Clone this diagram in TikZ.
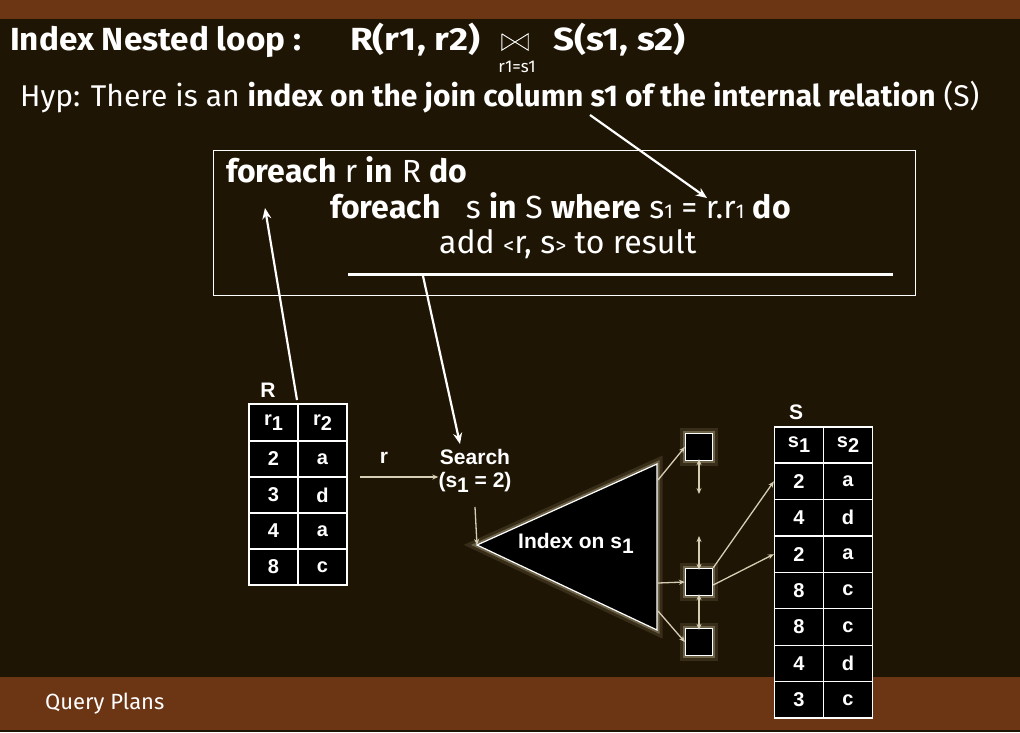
\documentclass[tikz,border=0pt]{standalone}
\usepackage{fontspec}
\setmainfont{Fira Sans}
\newfontfamily\tabfont{Liberation Sans}
\usetikzlibrary{arrows.meta,calc}
\definecolor{slidebg}{HTML}{1F1504}
\definecolor{barbrown}{HTML}{6C3514}
\definecolor{glowc}{HTML}{E9DDB2}
\definecolor{thinline}{HTML}{D6CDB4}
\newcommand{\fsz}[1]{\fontsize{#1}{#1}\selectfont}
\newcommand{\lowone}[1]{\raisebox{-5pt}{#1}}
\newcommand{\wide}[2]{\scalebox{#1}[1]{#2}}
\begin{document}
\begin{tikzpicture}[x=1pt,y=-1pt,
  slidetext/.style={text=white,inner sep=0pt},
  titlefont/.style={font=\fsz{32}\bfseries},
  codefont/.style={font=\fsz{32}},
  hint/.style={draw=white,line width=2.2pt,-{Stealth[length=11pt,width=9pt]}},
  thin/.style={draw=thinline,line width=1.3pt,-{Stealth[length=6pt,width=5pt]}},
  thinboth/.style={draw=thinline,line width=1.3pt,{Stealth[length=6pt,width=5pt]}-{Stealth[length=6pt,width=5pt]}},
  glowy/.style={preaction={draw=glowc,line width=11pt,opacity=0.12},
                preaction={draw=glowc,line width=5pt,opacity=0.3}},
  cell/.style={draw=white,fill=black,line width=1.3pt,inner sep=0pt,text=white,
               minimum width=49pt,minimum height=36pt,font=\tabfont\bfseries\fsz{20}},
  leaf/.style={draw=white,fill=black,line width=1.3pt,minimum size=27pt,inner sep=0pt,glowy},
  figlabel/.style={text=white,inner sep=0pt,font=\tabfont\bfseries\fsz{21}}]

% background and bars
\fill[slidebg] (0,0) rectangle (1020,732);
\fill[barbrown] (0,0) rectangle (1020,19);
\fill[barbrown] (0,677) rectangle (1020,730);
\useasboundingbox (0,0) rectangle (1020,732);

% title
\node[slidetext,titlefont,anchor=base west] (title) at (10,50) {\wide{1.04}{Index Nested loop :}};
\node[slidetext,titlefont,anchor=base west] (relR) at (350,50) {\wide{1.15}{R(r1, r2)}};
\node[slidetext,minimum width=26pt,minimum height=16pt] (join) at (515,42) {};
\draw[white,line width=0.9pt] (join.north west) -- (join.south west) -- (join.north east)
  -- (join.south east) -- (join.north west);
\node[slidetext,font=\fsz{17}] (cond) at (517,67) {r1=s1};
\node[slidetext,titlefont,anchor=base west] (relS) at (553,50) {\wide{1.15}{S(s1, s2)}};

% hypothesis
\node[slidetext,font=\fsz{30},anchor=base west] (hyp) at (20,106)
  {Hyp: There is an \textbf{index on the join column s1 of the internal relation} (S)};

% algorithm box
\node[draw=white,line width=1.2pt,minimum width=702pt,minimum height=145pt,
      anchor=north west,inner sep=0pt] (code) at (213,150) {};
\node[slidetext,codefont,anchor=base west] (l1) at (226,182)
  {\textbf{foreach} r \textbf{in} R \textbf{do}};
\node[slidetext,codefont,anchor=base west] (l2) at (330,218)
  {\textbf{foreach} \ \ s \textbf{in} S \textbf{where} s{\fsz{20}1} = r.r{\fsz{20}1} \textbf{do}};
\node[slidetext,codefont,anchor=base west] (l3) at (439,253)
  {add {\fsz{22}<}r, s{\fsz{22}>} to result};
\coordinate (ruleL) at (348,274);
\coordinate (ruleR) at (893,274);
\draw[white,line width=3pt] (ruleL) -- (ruleR);

% relation R
\node[figlabel] (Rname) at (268,390) {R};
\node[cell,minimum height=37pt] (R-0-1) at (273.5,422.5) {r\lowone{1}};
\node[cell,minimum height=37pt] (R-0-2) at (322.5,422.5) {r\lowone{2}};
\foreach \i/\a/\b in {1/2/a,2/3/d,3/4/a,4/8/c}{
  \node[cell] (R-\i-1) at (273.5,423+36*\i) {\a};
  \node[cell] (R-\i-2) at (322.5,423+36*\i) {\b};
}

% relation S
\node[figlabel] (Sname) at (796,412) {S};
\node[cell,minimum height=36pt] (S-0-1) at (799,445) {s\lowone{1}};
\node[cell,minimum height=36pt] (S-0-2) at (848,445) {s\lowone{2}};
\foreach \i/\a/\b in {1/2/a,2/4/d,3/2/a,4/8/c,5/8/c,6/4/d,7/3/c}{
  \node[cell,minimum height=36.5pt] (S-\i-1) at (799,445+36.4*\i) {\a};
  \node[cell,minimum height=36.5pt] (S-\i-2) at (848,445+36.4*\i) {\b};
}

% probe
\node[figlabel] (rlab) at (384,458) {r};
\coordinate (rfrom) at (360,477);
\node[figlabel,align=center] (search) at (475,471)
  {Search\\[2pt](s\lowone{1} = 2)};

% index triangle
\coordinate (apex) at (477,545);
\coordinate (tritop) at (657,464);
\coordinate (tribot) at (657,630);
\fill[black,glowy,draw=white,line width=1.2pt] (apex) -- (tritop) -- (tribot) -- cycle;
\node[figlabel] (idx) at (576,543) {Index on s\lowone{1}};
\coordinate (e1) at (658,480);
\coordinate (e2) at (658,583);
\coordinate (e3) at (658,611);

% leaf pages
\node[leaf] (b1) at (699,447) {};
\node[leaf] (b2) at (699,582) {};
\node[leaf] (b3) at (699,642) {};
\coordinate (b1end) at (699,494);
\coordinate (b2end) at (699,536);

% connectors of the figure
\draw[thin] (rfrom) -- (rfrom -| search.west);
\coordinate (searchfoot) at (475,507);
\draw[thin] (searchfoot) -- (apex);
\draw[thin] (e1) -- (b1.west);
\draw[thin] (e2) -- (b2.west);
\draw[thin] (e3) -- (b3.west);
\draw[thinboth] ([yshift=2pt]b1.south) -- (b1end);
\draw[thinboth] (b2end) -- ([yshift=-2pt]b2.north);
\draw[thinboth] ([yshift=2pt]b2.south) -- ([yshift=-2pt]b3.north);
\draw[thin] (b2.north east) -- (S-1-1.west);
\draw[thin] ([yshift=-3pt]b2.east) -- (S-3-1.west);

% pointers from the text
\coordinate (hypfrom) at (590,115);
\coordinate (rr1) at (707,198);
\coordinate (l1pt) at (265,208);
\coordinate (Rtop) at (297,400);
\coordinate (rulept) at (423,276);
\coordinate (searchtop) at (460,444);
\draw[hint] (hypfrom) -- (rr1);
\draw[hint] (Rtop) -- (l1pt);
\draw[hint] (rulept) -- (searchtop);

% footer
\node[slidetext,font=\fsz{22},anchor=west] (footer) at (45,704) {Query Plans};
\end{tikzpicture}
\end{document}
